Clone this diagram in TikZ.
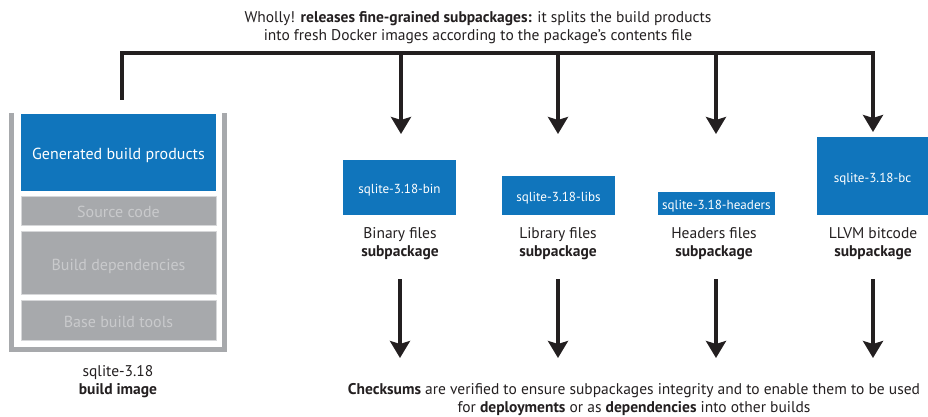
\documentclass[tikz,border=0pt]{standalone}
\usepackage{fontspec}
\setmainfont{PT Sans}
\usetikzlibrary{arrows.meta}
\definecolor{ink}{HTML}{231F20}
\definecolor{dblue}{HTML}{1075BC}
\definecolor{boxgray}{HTML}{A7A9AC}
\definecolor{txtgray}{HTML}{C9CACC}
\definecolor{edgegray}{HTML}{D6D7D9}
\begin{document}
\begin{tikzpicture}[x=1pt,y=-1pt,
  every node/.style={inner sep=0pt, text=ink},
  bluebox/.style={fill=dblue, text=white, minimum width=#1},
  graybox/.style={fill=boxgray, draw=edgegray, line width=0.8pt, text=txtgray, minimum width=195pt},
  flowarrow/.style={draw=ink, line width=4pt, -{Stealth[length=17pt,width=20pt,inset=3pt]}},
  lbl/.style={align=center, font=\fontsize{15.5}{18.5}\selectfont},
  boxtxt/.style={font=\fontsize{13.1}{15}\selectfont, text height=12pt, text depth=0pt},
  imgtxt/.style={font=\fontsize{16}{18}\selectfont, text height=14pt, text depth=0pt}
]
\useasboundingbox (0,0) rectangle (928,417);

% top caption
\node[lbl] (cap) at (478,27.5) {Wholly! \textbf{releases fine-grained subpackages:} it splits the build products\\into fresh Docker images according to the package’s contents file};

% build image frame
\draw[draw=boxgray, line width=5pt] (11.5,113) -- (11.5,349.5) -- (224,349.5) -- (224,113);
\node[bluebox=195pt, minimum height=76.7pt, imgtxt] (gen) at (118.5,152.4) {Generated build products};
\node[graybox, minimum height=29pt, imgtxt] (src) at (118.5,210.5) {Source code};
\node[graybox, minimum height=63.7pt, imgtxt] (deps) at (118.5,263) {Build dependencies};
\node[graybox, minimum height=39.3pt, imgtxt] (base) at (118.5,320.4) {Base build tools};
\node[lbl] (imglbl) at (118,381.5) {sqlite-3.18\\\textbf{build image}};

% subpackage boxes
\node[bluebox=113pt, minimum height=55pt, boxtxt] (bin) at (399.5,187.5) {sqlite-3.18-bin};
\node[bluebox=113pt, minimum height=38.7pt, boxtxt] (libs) at (558.5,195.4) {sqlite-3.18-libs};
\node[bluebox=117pt, minimum height=22.7pt, boxtxt] (hdr) at (716.4,203.4) {sqlite-3.18-headers};
\node[bluebox=111pt, minimum height=77.4pt, boxtxt] (bc) at (872.5,176) {sqlite-3.18-bc};

\node[lbl] (binlbl) at (400,243.5) {Binary files\\\textbf{subpackage}};
\node[lbl] (libslbl) at (558,243.5) {Library files\\\textbf{subpackage}};
\node[lbl] (hdrlbl) at (714,243.5) {Headers files\\\textbf{subpackage}};
\node[lbl] (bclbl) at (873,243.5) {LLVM bitcode\\\textbf{subpackage}};

% splitting bar
\coordinate (imgtop) at (122,100);
\coordinate (barL) at (122,53.5);
\coordinate (barR) at (873,53.5);
\coordinate (b1) at (401,53.5);
\coordinate (b2) at (558,53.5);
\coordinate (b3) at (716,53.5);
\coordinate (t1) at (401,134);
\coordinate (t2) at (558,134);
\coordinate (t3) at (716,134);
\coordinate (t4) at (873,132);
\draw[flowarrow] (imgtop) -- (barL) -- (barR) -- (t4);
\draw[flowarrow] (b1) -- (t1);
\draw[flowarrow] (b2) -- (t2);
\draw[flowarrow] (b3) -- (t3);

% lower arrows
\foreach \n/\x in {1/400,2/558,3/716,4/873}{
  \coordinate (u\n) at (\x,279);
  \coordinate (d\n) at (\x,358);
  \draw[flowarrow] (u\n) -- (d\n);
}

% bottom caption
\node[lbl] (bot) at (634,399.5) {\textbf{Checksums} are verified to ensure subpackages integrity and to enable them to be used\\for \textbf{deployments} or as \textbf{dependencies} into other builds};
\end{tikzpicture}
\end{document}
